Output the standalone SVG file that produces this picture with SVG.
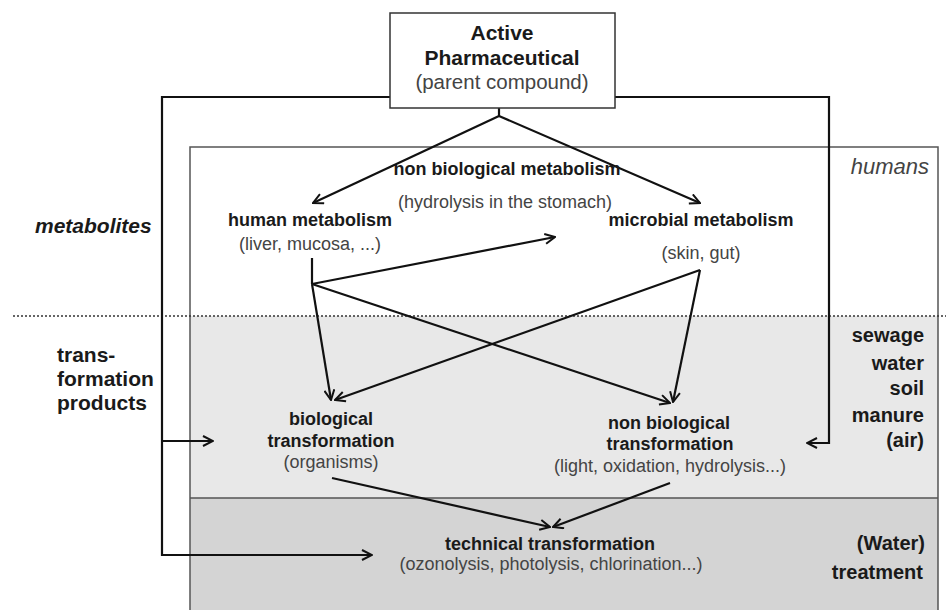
<svg xmlns="http://www.w3.org/2000/svg" width="946" height="610" viewBox="0 0 946 610">
<defs>
<marker id="arr" viewBox="0 0 12 12" refX="11" refY="6" markerWidth="12" markerHeight="12" markerUnits="userSpaceOnUse" orient="auto">
<path d="M1,1 L11,6 L1,11" fill="none" stroke="#111" stroke-width="2"/>
</marker>
</defs>
<style>
.b{font-family:"Liberation Sans",Arial,sans-serif;font-weight:bold;fill:#1a1a1a}
.r{font-family:"Liberation Sans",Arial,sans-serif;fill:#444}
.c{text-anchor:middle}
.e{text-anchor:end}
.ln{fill:none;stroke:#111;stroke-width:2.2}
.a{marker-end:url(#arr)}
</style>
<rect width="946" height="610" fill="#fff"/>
<g id="zones">
<rect x="190" y="147" width="748" height="169" fill="#fff"/>
<rect x="190" y="316" width="748" height="182" fill="#e8e8e8"/>
<rect x="190" y="498" width="748" height="114" fill="#d4d4d4"/>
<rect x="190" y="147" width="748" height="465" fill="none" stroke="#555" stroke-width="1.5"/>
<line x1="190" y1="498" x2="938" y2="498" stroke="#555" stroke-width="1.5"/>
<line x1="13" y1="316" x2="946" y2="316" stroke="#333" stroke-width="1.5" stroke-dasharray="2,2"/>
<text class="r" x="929" y="174" font-size="22" font-style="italic" text-anchor="end" fill="#222">humans</text>
<text class="b e" x="924" y="342" font-size="20">sewage</text>
<text class="b e" x="924" y="370" font-size="20">water</text>
<text class="b e" x="924" y="395" font-size="20">soil</text>
<text class="b e" x="924" y="422" font-size="20">manure</text>
<text class="b e" x="924" y="447" font-size="20">(air)</text>
<text class="b e" x="925" y="550" font-size="20">(Water)</text>
<text class="b e" x="923" y="579" font-size="20">treatment</text>
<text class="b" x="35" y="233" font-size="21" font-style="italic">metabolites</text>
<text class="b" x="57" y="362" font-size="21">trans-</text>
<text class="b" x="57" y="386" font-size="21">formation</text>
<text class="b" x="57" y="410" font-size="21">products</text>
</g>
<g id="connectors">
<path class="ln" d="M390,97 H162 V555 H372" marker-end="url(#arr)"/>
<path class="ln a" d="M162,441 H213"/>
<path class="ln" d="M615,97 H829 V443 H807" marker-end="url(#arr)"/>
<path class="ln" d="M499,108 V116"/>
<path class="ln a" d="M499,116 L313,203"/>
<path class="ln a" d="M499,116 L700,203"/>
<path class="ln" d="M312,258 V284"/>
<path class="ln a" d="M312,284 L331,400"/>
<path class="ln a" d="M312,284 L555,237"/>
<path class="ln a" d="M312,284 L670,403"/>
<path class="ln a" d="M700,270 L335,400"/>
<path class="ln a" d="M700,270 L673,402"/>
<path class="ln a" d="M332,478 L550,527"/>
<path class="ln a" d="M670,483 L553,527"/>
</g>
<g id="active-pharmaceutical">
<rect x="390" y="13" width="225" height="95" fill="#fff" stroke="#333" stroke-width="1.5"/>
<text class="b c" x="502" y="40" font-size="21">Active</text>
<text class="b c" x="502" y="65" font-size="21">Pharmaceutical</text>
<text class="r c" x="502" y="89" font-size="20.5" fill="#222">(parent compound)</text>
</g>
<g id="non-biological-metabolism">
<text class="b c" x="507" y="175" font-size="18">non biological metabolism</text>
<text class="r c" x="505" y="208" font-size="18">(hydrolysis in the stomach)</text>
</g>
<g id="human-metabolism">
<text class="b c" x="310" y="226" font-size="18">human metabolism</text>
<text class="r c" x="310" y="250" font-size="18">(liver, mucosa, ...)</text>
</g>
<g id="microbial-metabolism">
<text class="b c" x="701" y="226" font-size="18">microbial metabolism</text>
<text class="r c" x="701" y="259" font-size="18">(skin, gut)</text>
</g>
<g id="biological-transformation">
<text class="b c" x="331" y="425" font-size="18">biological</text>
<text class="b c" x="331" y="447" font-size="18">transformation</text>
<text class="r c" x="331" y="468" font-size="18">(organisms)</text>
</g>
<g id="non-biological-transformation">
<text class="b c" x="669" y="429" font-size="18">non biological</text>
<text class="b c" x="670" y="450" font-size="18">transformation</text>
<text class="r c" x="670" y="472" font-size="18">(light, oxidation, hydrolysis...)</text>
</g>
<g id="technical-transformation">
<text class="b c" x="550" y="550" font-size="18">technical transformation</text>
<text class="r c" x="551" y="570" font-size="18">(ozonolysis, photolysis, chlorination...)</text>
</g>
</svg>
